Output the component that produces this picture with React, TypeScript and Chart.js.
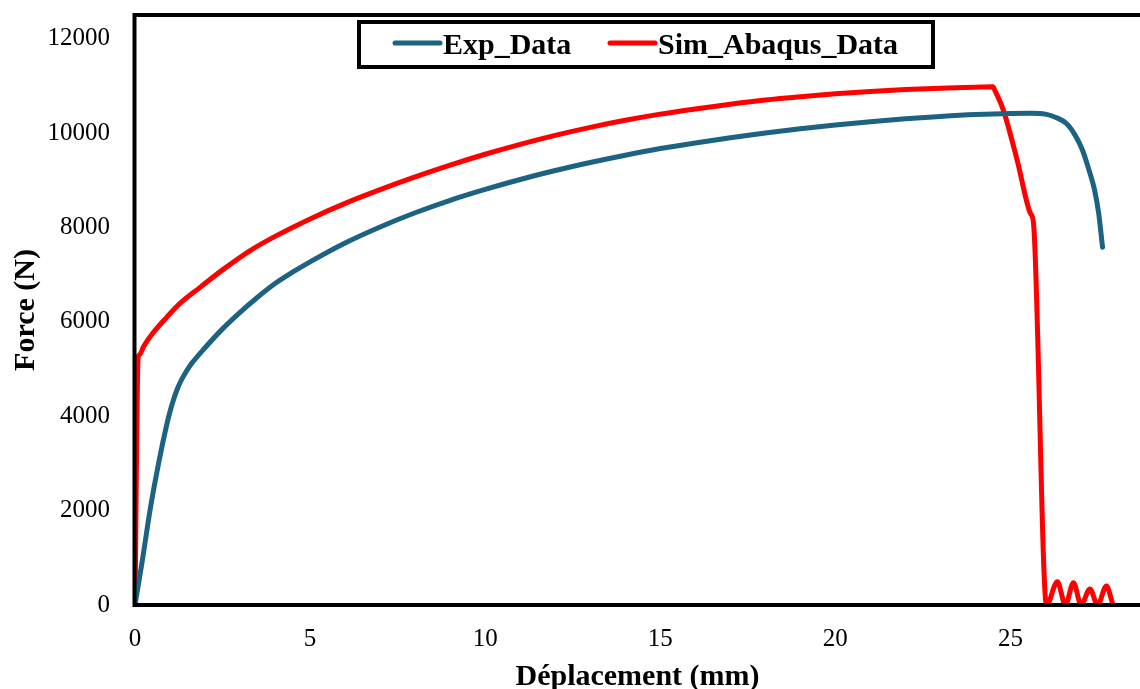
import { useEffect, useRef } from 'react';
import { Chart, registerables } from 'chart.js';

Chart.register(...registerables);

const FONT = "'Liberation Serif', 'Times New Roman', Times, serif";

const xTicks = [0, 5, 10, 15, 20, 25];
const yTicks = [0, 2000, 4000, 6000, 8000, 10000, 12000];
const X_MAX = 28.7;
const Y_MAX = 12500;

const expLabel = 'Exp_Data';
const expX = [0, 0.2, 0.45, 0.7, 0.9, 1.0, 1.1, 1.2, 1.3, 1.45, 1.6, 2.0, 2.5, 3, 3.5, 4, 4.5, 5, 6, 7, 8, 9, 10, 11, 12, 13, 14, 15, 16, 17, 18, 19, 20, 21, 22, 23, 24, 25, 25.6, 26.0, 26.3, 26.6, 26.85, 27.05, 27.25, 27.4, 27.52, 27.63];
const expY = [0, 900, 2100, 3100, 3800, 4100, 4350, 4560, 4730, 4930, 5100, 5450, 5850, 6200, 6520, 6810, 7050, 7270, 7670, 8010, 8310, 8575, 8805, 9015, 9205, 9375, 9530, 9670, 9790, 9900, 10000, 10090, 10170, 10240, 10300, 10350, 10390, 10415, 10420, 10400, 10330, 10200, 9950, 9650, 9200, 8800, 8300, 7580];

const simLabel = 'Sim_Abaqus_Data';
const simX = [0, 0.09, 0.12, 0.25, 0.5, 0.91, 1.3, 1.86, 2.5, 3.29, 4, 5, 6, 7, 8, 9, 10, 11, 12, 13, 14, 15, 16, 17, 18, 19, 20, 21, 22, 23, 24, 24.5, 24.55, 24.8, 25.2, 25.57, 25.66, 26.03, 26.34, 26.57, 26.8, 27.02, 27.27, 27.49, 27.74, 27.93];
const simY = [0, 5250, 5295, 5480, 5750, 6100, 6400, 6730, 7100, 7510, 7810, 8180, 8510, 8800, 9070, 9320, 9550, 9760, 9950, 10120, 10270, 10400, 10510, 10610, 10700, 10770, 10830, 10880, 10920, 10950, 10970, 10980, 10910, 10480, 9400, 8300, 8080, 0, 490, 0, 470, 0, 340, 0, 400, 0];

const expColor = '#1c6282';
const simColor = '#ff0000';

const overlay = {
  id: 'overlay',
  afterDatasetsDraw(chart: any) {
    const { ctx, chartArea: a } = chart;
    ctx.save();
    // frame
    ctx.strokeStyle = '#000';
    ctx.lineWidth = 4;
    ctx.lineCap = 'butt';
    ctx.lineJoin = 'miter';
    ctx.beginPath();
    ctx.moveTo(a.right + 5, a.top);
    ctx.lineTo(a.left - 0.5, a.top);
    ctx.lineTo(a.left - 0.5, a.bottom);
    ctx.lineTo(a.right + 5, a.bottom);
    ctx.stroke();

    // legend
    ctx.fillStyle = '#fff';
    ctx.fillRect(357, 20, 578, 49);
    ctx.lineWidth = 4;
    ctx.strokeStyle = '#000';
    ctx.strokeRect(359, 22, 574, 45);
    const items = chart.data.datasets.map((d: any, i: number) => ({
      label: d.label,
      color: d.borderColor,
      x0: i === 0 ? 395 : 610,
    }));
    ctx.font = `bold 30px ${FONT}`;
    ctx.textBaseline = 'alphabetic';
    ctx.textAlign = 'left';
    for (const it of items) {
      ctx.strokeStyle = it.color;
      ctx.lineWidth = 5;
      ctx.lineCap = 'round';
      ctx.beginPath();
      ctx.moveTo(it.x0, 43);
      ctx.lineTo(it.x0 + 45, 43);
      ctx.stroke();
      ctx.fillStyle = '#000';
      ctx.fillText(it.label, it.x0 + 48, 54);
    }

    // axis titles
    ctx.fillStyle = '#000';
    ctx.font = `bold 30px ${FONT}`;
    ctx.textAlign = 'center';
    ctx.textBaseline = 'alphabetic';
    ctx.fillText('Déplacement (mm)', (a.left + a.right) / 2, 685);
    ctx.save();
    ctx.translate(34, (a.top + a.bottom) / 2);
    ctx.rotate(-Math.PI / 2);
    ctx.fillText('Force (N)', 0, 0);
    ctx.restore();
    ctx.restore();
  },
};

export default function App() {
  const ref = useRef<HTMLCanvasElement>(null);
  useEffect(() => {
    document.body.style.margin = '0';
    const chart = new Chart(ref.current as HTMLCanvasElement, {
      type: 'line',
      data: {
        datasets: [
          {
            label: expLabel,
            data: expX.map((x, i) => ({ x, y: expY[i] })),
            borderColor: expColor,
            backgroundColor: expColor,
            borderWidth: 5,
            pointRadius: 0,
            cubicInterpolationMode: 'monotone',
            borderCapStyle: 'round',
            borderJoinStyle: 'round',
          },
          {
            label: simLabel,
            data: simX.map((x, i) => ({ x, y: simY[i] })),
            borderColor: simColor,
            backgroundColor: simColor,
            borderWidth: 5,
            pointRadius: 0,
            cubicInterpolationMode: 'monotone',
            borderCapStyle: 'round',
            borderJoinStyle: 'round',
          },
        ],
      },
      options: {
        responsive: false,
        animation: false,
        devicePixelRatio: 1,
        layout: { padding: { top: 15, left: 0, right: 0, bottom: 0 } },
        plugins: {
          legend: { display: false },
          tooltip: { enabled: false },
          title: { display: false },
        },
        scales: {
          x: {
            type: 'linear',
            min: 0,
            max: X_MAX,
            grid: { display: false, drawTicks: false },
            border: { display: false },
            ticks: {
              padding: 19,
              color: '#000',
              font: { family: FONT, size: 25 },
              maxRotation: 0,
              callback: (v: any) => String(v),
            },
            afterBuildTicks: (scale: any) => {
              scale.ticks = xTicks.map((v) => ({ value: v }));
            },
            afterFit: (scale: any) => {
              scale.height = 84;
              scale.paddingLeft = 0;
              scale.paddingRight = 0;
            },
          },
          y: {
            type: 'linear',
            min: 0,
            max: Y_MAX,
            grid: { display: false, drawTicks: false },
            border: { display: false },
            ticks: {
              padding: 25,
              color: '#000',
              font: { family: FONT, size: 25 },
              callback: (v: any) => String(v),
            },
            afterBuildTicks: (scale: any) => {
              scale.ticks = yTicks.map((v) => ({ value: v }));
            },
            afterFit: (scale: any) => {
              scale.width = 135;
              scale.paddingTop = 0;
              scale.paddingBottom = 0;
            },
          },
        },
      },
      plugins: [overlay],
    } as any);
    return () => chart.destroy();
  }, []);
  return (
    <div style={{ position: 'fixed', left: 0, top: 0, width: 1140, height: 689, background: '#fff' }}>
      <canvas ref={ref} width={1140} height={689} style={{ display: 'block' }} />
    </div>
  );
}
